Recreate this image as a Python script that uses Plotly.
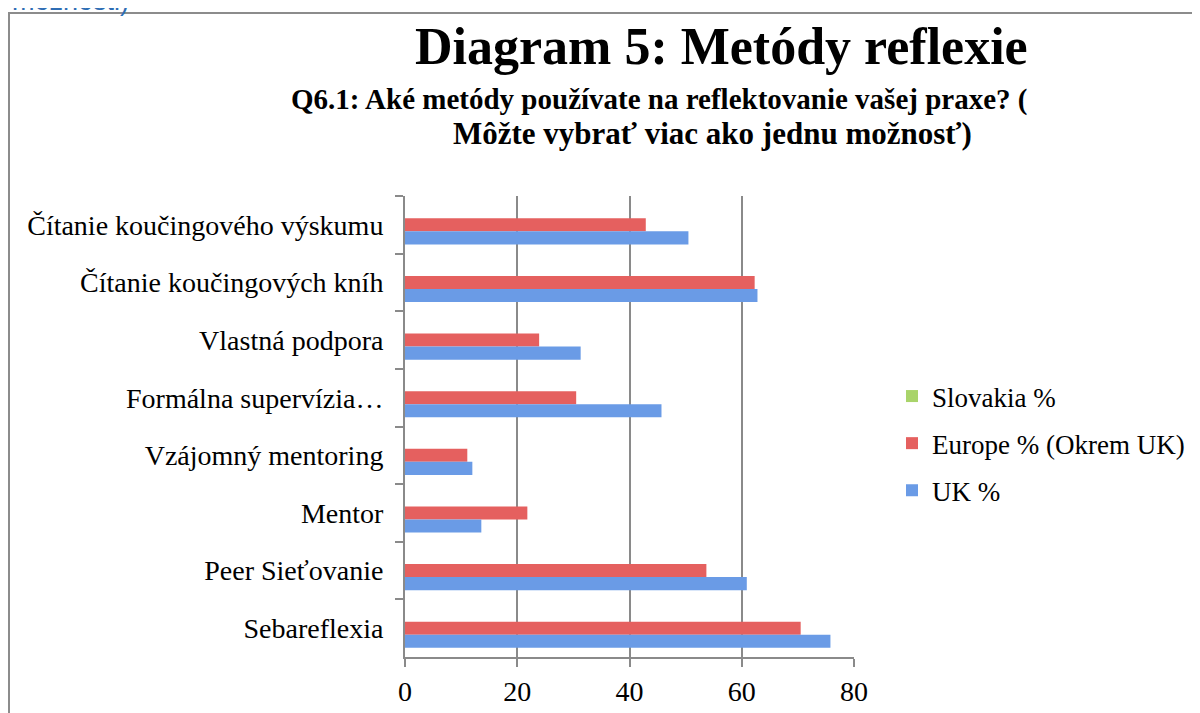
import plotly.graph_objects as go

# Data, listed top to bottom as in the chart
categories = [
    "Čítanie koučingového výskumu",
    "Čítanie koučingových kníh",
    "Vlastná podpora",
    "Formálna supervízia…",
    "Vzájomný mentoring",
    "Mentor",
    "Peer Sieťovanie",
    "Sebareflexia",
]
slovakia_pct = [0, 0, 0, 0, 0, 0, 0, 0]
europe_pct = [42.9, 62.3, 23.9, 30.5, 11.1, 21.8, 53.7, 70.5]
uk_pct = [50.5, 62.8, 31.3, 45.7, 12.0, 13.6, 60.9, 75.8]
x_ticks = [0, 20, 40, 60, 80]

SERIF = "Liberation Serif"
GRID = "#8a8a8a"

# the page body adds 8px around the figure
OFF = 8
W, H = 1200, 713
# plot area in page pixels
L, R, T, B = 405, 854, 196, 657


def px_x(p):
    return (p - L) / (R - L)


def px_y(p):
    return (B - p) / (B - T)


fig = go.Figure()

series = [
    ("Slovakia %", slovakia_pct, "#A9D46A"),
    ("Europe % (Okrem UK)", europe_pct, "#E5605F"),
    ("UK %", uk_pct, "#6A9BE6"),
]
for name, vals, col in series:
    fig.add_trace(go.Bar(
        y=categories, x=vals, name=name, orientation="h",
        marker=dict(color=col, line=dict(width=0)),
        legendgroup=name,
    ))

# outer frame of the chart object
fig.add_shape(type="rect", xref="paper", yref="paper",
              x0=px_x(OFF + 1), x1=px_x(1230), y0=px_y(740), y1=px_y(13),
              line=dict(color="#8c8c8c", width=2), layer="below")

fig.add_annotation(text="Diagram 5: Metódy reflexie", xref="paper", yref="paper",
                   x=px_x(721), y=px_y(46), showarrow=False,
                   xanchor="center", yanchor="middle",
                   font=dict(family=SERIF, size=52, color="black", weight="bold"))
fig.add_annotation(text="Q6.1: Aké metódy používate na reflektovanie vašej praxe? (",
                   xref="paper", yref="paper",
                   x=px_x(659), y=px_y(100), showarrow=False,
                   xanchor="center", yanchor="middle",
                   font=dict(family=SERIF, size=29, color="black", weight="bold"))
fig.add_annotation(text="Môžte vybrať viac ako jednu možnosť)",
                   xref="paper", yref="paper",
                   x=px_x(712), y=px_y(134), showarrow=False,
                   xanchor="center", yanchor="middle",
                   font=dict(family=SERIF, size=31, color="black", weight="bold"))
fig.add_annotation(text="možnosti)", xref="paper", yref="paper",
                   x=px_x(10), y=px_y(18), showarrow=False,
                   xanchor="left", yanchor="bottom",
                   font=dict(family="Liberation Sans", size=27, color="#2E6DB4"))

fig.update_layout(
    width=W, height=H,
    margin=dict(l=L - OFF, r=W - (R - OFF), t=T - OFF, b=H - (B - OFF),
                autoexpand=False),
    paper_bgcolor="white", plot_bgcolor="white",
    barmode="group", bargap=0.32, bargroupgap=0,
    legend=dict(xref="container", yref="container",
                x=(892 - OFF) / W, y=1 - (372 - OFF) / H,
                xanchor="left", yanchor="top",
                font=dict(family=SERIF, size=27, color="black"),
                traceorder="grouped", tracegroupgap=9,
                itemwidth=30, bgcolor="rgba(0,0,0,0)"),
    font=dict(family=SERIF, color="black"),
)

fig.update_xaxes(range=[0, 80], tickvals=x_ticks,
                 showgrid=True, gridcolor=GRID, gridwidth=2,
                 showline=True, linecolor=GRID, linewidth=2,
                 ticks="outside", ticklen=8, tickcolor=GRID, tickwidth=2,
                 tickfont=dict(family=SERIF, size=28, color="black"),
                 zeroline=False, fixedrange=True)
fig.update_yaxes(autorange="reversed", tickson="boundaries",
                 showline=True, linecolor=GRID, linewidth=2,
                 ticks="outside", ticklen=8, tickcolor=GRID, tickwidth=2,
                 ticklabelstandoff=14,
                 tickfont=dict(family=SERIF, size=28, color="black"),
                 showgrid=False, zeroline=False, fixedrange=True)

fig.write_html("out.html")
